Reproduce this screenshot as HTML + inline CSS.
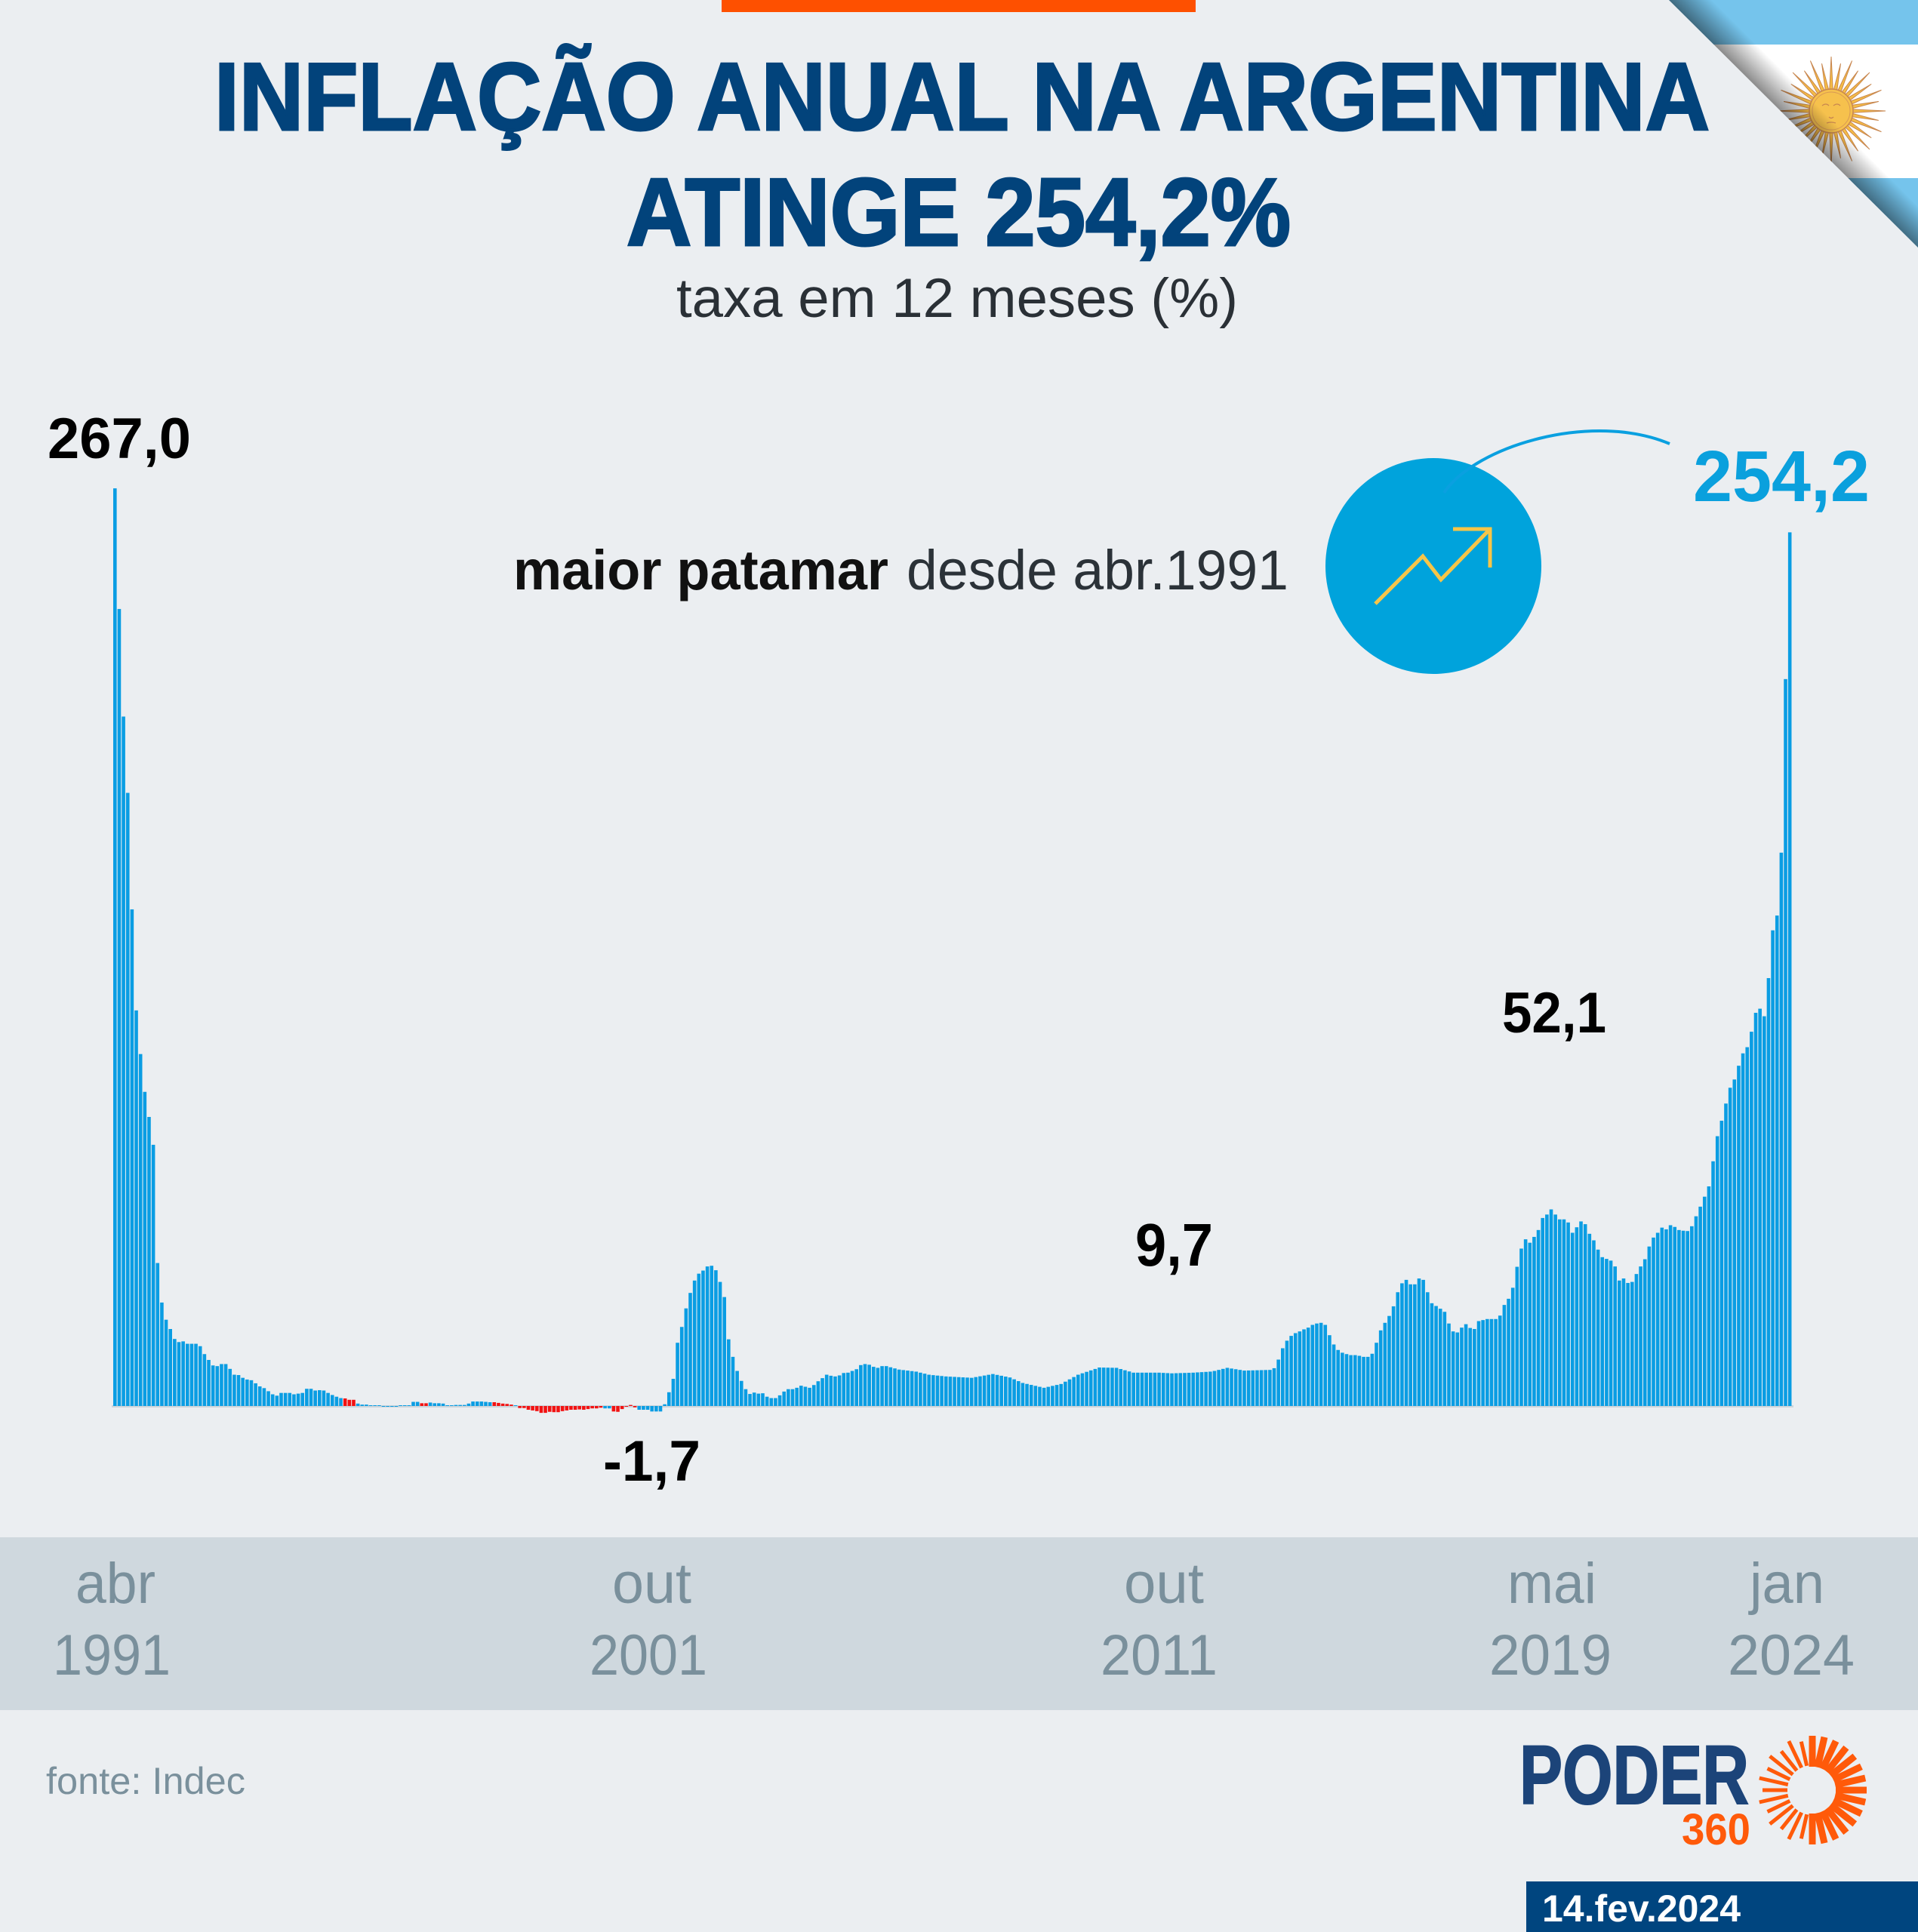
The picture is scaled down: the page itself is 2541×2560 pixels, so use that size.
<!DOCTYPE html>
<html>
<head>
<meta charset="utf-8">
<style>
html,body{margin:0;padding:0;background:#ebeef1;}
svg{display:block;}
</style>
</head>
<body>
<svg id="s" width="2541" height="2560" viewBox="0 0 2541 2560" xmlns="http://www.w3.org/2000/svg" font-family="'Liberation Sans', Arial, sans-serif">
<defs>
  <clipPath id="flagclip"><polygon points="2211,0 2541,0 2541,328"/></clipPath>
  <linearGradient id="sh" gradientUnits="userSpaceOnUse" x1="2376" y1="164" x2="2404" y2="136">
    <stop offset="0" stop-color="#000" stop-opacity="0.45"/>
    <stop offset="1" stop-color="#000" stop-opacity="0"/>
  </linearGradient>
</defs>
<rect width="2541" height="2560" fill="#ebeef1"/>
<rect x="956" y="0" width="628" height="16" fill="#fe5000"/>

<!-- flag -->
<g clip-path="url(#flagclip)">
  <rect x="2200" y="0" width="341" height="59" fill="#75c4ec"/>
  <rect x="2200" y="59" width="341" height="177" fill="#ffffff"/>
  <rect x="2200" y="236" width="341" height="100" fill="#75c4ec"/>
  <g id="flagsun"></g>
  <circle cx="2426" cy="147" r="29" fill="#f6c14d" stroke="#c8874f" stroke-width="1.5"/>
  <circle cx="2426" cy="147" r="25" fill="none" stroke="#d99a55" stroke-width="1"/>
  <path d="M2414,140 q5,-4 9,0 M2429,140 q5,-4 9,0 M2423,155 q3,3 6,0 M2420,163 q6,-2 12,0" fill="none" stroke="#c8874f" stroke-width="1.3"/>
  <rect x="2200" y="0" width="341" height="340" fill="url(#sh)"/>
</g>

<!-- titles -->
<text x="284" y="172" font-size="127" font-weight="bold" fill="#02437b" stroke="#02437b" stroke-width="3" textLength="1981" lengthAdjust="spacingAndGlyphs">INFLAÇÃO ANUAL NA ARGENTINA</text>
<text x="830" y="325" font-size="127" font-weight="bold" fill="#02437b" stroke="#02437b" stroke-width="3" textLength="880" lengthAdjust="spacingAndGlyphs">ATINGE 254,2%</text>
<text x="896" y="420" font-size="73" fill="#2a3036" textLength="744" lengthAdjust="spacingAndGlyphs">taxa em 12 meses (%)</text>

<!-- baseline -->
<rect x="148" y="1862" width="2228" height="3" fill="#cdd5db"/>
<g id="bars"></g>

<!-- annotations -->
<text x="63" y="607" font-size="76" font-weight="bold" fill="#000" textLength="190" lengthAdjust="spacingAndGlyphs">267,0</text>
<text x="2243" y="664" font-size="96" font-weight="bold" fill="#0aa0dd" textLength="234" lengthAdjust="spacingAndGlyphs">254,2</text>
<text x="680" y="781" font-size="74" font-weight="bold" fill="#111" textLength="497" lengthAdjust="spacingAndGlyphs">maior patamar</text>
<text x="1201" y="781" font-size="74" fill="#2b3238" textLength="506" lengthAdjust="spacingAndGlyphs">desde abr.1991</text>
<text x="1990" y="1368" font-size="76" font-weight="bold" fill="#000" textLength="138" lengthAdjust="spacingAndGlyphs">52,1</text>
<text x="1504" y="1677" font-size="80" font-weight="bold" fill="#000" textLength="103" lengthAdjust="spacingAndGlyphs">9,7</text>
<text x="799" y="1962" font-size="76" font-weight="bold" fill="#000" textLength="129" lengthAdjust="spacingAndGlyphs">-1,7</text>

<circle cx="1899" cy="750" r="143" fill="#00a3dc"/>
<path d="M1913,653 C1955,590 2110,545 2212,588" fill="none" stroke="#0aa0e0" stroke-width="4"/>
<polyline points="1822,800 1885,737 1909,768 1974,701" fill="none" stroke="#f7c548" stroke-width="5"/>
<polyline points="1925,701 1974,701 1974,752" fill="none" stroke="#f7c548" stroke-width="5"/>

<!-- axis band -->
<rect x="0" y="2037" width="2541" height="229" fill="#cfd8de"/>
<g font-size="76" fill="#7a909c">
  <text x="100" y="2124" textLength="106" lengthAdjust="spacingAndGlyphs">abr</text>
  <text x="70" y="2219" textLength="156" lengthAdjust="spacingAndGlyphs">1991</text>
  <text x="811" y="2124" textLength="105" lengthAdjust="spacingAndGlyphs">out</text>
  <text x="781" y="2219" textLength="156" lengthAdjust="spacingAndGlyphs">2001</text>
  <text x="1489" y="2124" textLength="106" lengthAdjust="spacingAndGlyphs">out</text>
  <text x="1458" y="2219" textLength="155" lengthAdjust="spacingAndGlyphs">2011</text>
  <text x="1997" y="2124" textLength="118" lengthAdjust="spacingAndGlyphs">mai</text>
  <text x="1973" y="2219" textLength="162" lengthAdjust="spacingAndGlyphs">2019</text>
  <text x="2318" y="2124" textLength="99" lengthAdjust="spacingAndGlyphs">jan</text>
  <text x="2289" y="2219" textLength="168" lengthAdjust="spacingAndGlyphs">2024</text>
</g>

<text x="61" y="2377" font-size="50" fill="#7a909c" textLength="264" lengthAdjust="spacingAndGlyphs">fonte: Indec</text>

<!-- logo -->
<text x="2013" y="2390" font-size="110" font-weight="bold" fill="#1c4479" stroke="#1c4479" stroke-width="2" textLength="304" lengthAdjust="spacingAndGlyphs">PODER</text>
<text x="2228" y="2444" font-size="58" font-weight="bold" fill="#ff5a0a" textLength="91" lengthAdjust="spacingAndGlyphs">360</text>
<g id="logosun"></g>

<!-- date -->
<rect x="2022" y="2493" width="519" height="67" fill="#00457f"/>
<text x="2043" y="2546" font-size="50" font-weight="bold" fill="#ffffff" textLength="263" lengthAdjust="spacingAndGlyphs">14.fev.2024</text>
</svg>

<script>
(function(){
var ns="http://www.w3.org/2000/svg";
var A=[267.0,231.9,200.6,178.4,144.5,115.1,102.4,91.4,84.1,76.0,
41.6,30.1,25.1,22.4,19.5,18.6,18.8,18.1,18.1,18.1,
17.4,15.1,13.4,11.8,11.6,12.2,12.2,10.8,9.1,9.0,
8.2,7.7,7.5,6.6,5.7,5.2,4.3,3.4,3.0,3.8,
3.8,3.8,3.4,3.6,3.8,5.0,5.0,4.5,4.6,4.5,
3.8,3.2,2.7,2.3,2.2,1.8,1.8,0.7,0.4,0.4,
0.2,0.1,0.0,-0.2,-0.2,-0.1,-0.1,0.1,0.2,0.2,
1.2,1.2,0.8,0.8,1.0,0.8,0.8,0.7,0.1,0.1,
0.3,0.3,0.3,0.7,1.3,1.3,1.3,1.2,1.1,1.1,
0.9,0.7,0.6,0.4,0.0,-0.6,-0.6,-1.1,-1.3,-1.5,
-2.0,-2.0,-1.7,-1.8,-1.8,-1.5,-1.3,-1.1,-1.1,-1.0,
-1.1,-0.9,-0.7,-0.7,-0.5,-0.7,-0.7,-1.6,-1.7,-0.9,
-0.2,0.3,-0.4,-1.1,-1.1,-1.1,-1.6,-1.6,-1.6,0.5,
4.0,7.9,18.4,23.0,28.4,32.9,36.5,38.5,39.4,40.6,
40.8,39.5,36.1,31.7,19.4,14.3,10.2,7.3,4.9,3.5,
3.9,3.6,3.7,2.7,2.3,2.3,3.1,4.2,4.9,4.9,
5.3,5.9,5.6,5.3,6.1,7.2,8.1,9.1,8.8,8.6,
8.9,9.6,9.7,10.2,10.7,11.9,12.2,12.0,11.4,11.1,
11.6];
var C=[[180,11.6],[181,11.6],[184,10.6],[188,10.0],[191,9.1],[195,8.6],[201,8.2],[206,9.3],[210,8.3],[213,6.7],[218,5.3],[222,6.4],[226,9.1],[231,11.2],[235,11.1],[239,9.7],[245,9.7],[248,9.5],[253,9.7],[257,10.0],[258,10.2],[261,11.1],[265,10.3],[271,10.5],[272,11.0]];
var B=[13.5,16.8,19.0,20.4,21.2,21.7,22.3,22.8,23.6,24.0,
24.2,23.6,20.6,17.9,16.3,15.5,15.1,14.8,14.8,14.6,
14.3,14.3,15.2,18.4,22.0,24.2,26.2,29.0,33.1,35.7,
36.7,35.4,35.4,37.1,36.7,33.1,29.9,29.1,28.3,27.4,
24.0,21.7,21.4,22.8,23.8,22.7,22.4,24.7,25.0,25.3,
25.3,25.3,26.3,29.4,31.2,34.4,40.5,45.8,48.5,47.5,
49.2,51.2,54.7,55.7,57.2,55.7,54.3,54.3,53.4,50.4,
52.0,53.7,52.9,50.1,48.2,45.5,43.3,42.8,42.3,40.6,
36.5,37.1,35.8,36.1,38.4,40.6,
42.7,46.4,49.0,50.4,51.9,51.4,52.6,52.1,51.2,51.0,
50.9,52.3,55.2,58.0,60.9,63.9,71.2,78.5,83.0,88.0,
92.6,95.0,99.0,102.6,104.4,108.9,114.4,115.6,113.4,124.5,
138.4,142.7,161.0,211.5,254.2];
var v=A.slice();
for(var i=181;i<=272;i++){
  for(var k=0;k<C.length-1;k++){
    if(i>=C[k][0]&&i<=C[k+1][0]){
      var t=(i-C[k][0])/(C[k+1][0]-C[k][0]);
      v.push(C[k][1]+(C[k+1][1]-C[k][1])*t);break;
    }
  }
}
v=v.concat(B);
var red={};
[54,55,56,72,73].forEach(function(x){red[x]=1;});
for(var r=89;r<=93;r++)red[r]=1;
for(r=95;r<=114;r++)red[r]=1;
for(r=117;r<=122;r++)red[r]=1;
var g=document.getElementById('bars');
var base=1863,sc=4.554;
for(i=0;i<v.length;i++){
  var val=v[i],h=Math.abs(val)*sc;if(h<1)h=1;
  var rc=document.createElementNS(ns,'rect');
  rc.setAttribute('x',(150+i*5.646).toFixed(2));
  rc.setAttribute('width','4.6');
  if(val>=0){rc.setAttribute('y',(base-h).toFixed(2));}
  else{rc.setAttribute('y',base);}
  rc.setAttribute('height',h.toFixed(2));
  rc.setAttribute('fill',red[i]?'#f21212':'#0a9de3');
  g.appendChild(rc);
}
// flag sun rays
var fs=document.getElementById('flagsun');
var cx=2426,cy=147;
for(k=0;k<32;k++){
  var a=k*Math.PI*2/32,ro=(k%2==0)?72:64,ri=27,hw=0.085;
  var p=[[cx+ri*Math.sin(a-hw),cy-ri*Math.cos(a-hw)],[cx+ro*Math.sin(a),cy-ro*Math.cos(a)],[cx+ri*Math.sin(a+hw),cy-ri*Math.cos(a+hw)]];
  var pg=document.createElementNS(ns,'polygon');
  pg.setAttribute('points',p.map(function(q){return q[0].toFixed(1)+','+q[1].toFixed(1);}).join(' '));
  pg.setAttribute('fill','#f5bd45');pg.setAttribute('stroke','#c8874f');pg.setAttribute('stroke-width','1');
  fs.appendChild(pg);
}
// logo sun
var ls=document.getElementById('logosun');
var lx=2401,ly=2372,n=28;
for(k=0;k<n;k++){
  var ang=k*360/n,rad=ang*Math.PI/180;
  var thick=(ang<=180);
  var r1=31,r2=72;
  if(!thick){r1=33;r2=(k%2==0)?72:66;}
  var ln=document.createElementNS(ns,'line');
  ln.setAttribute('x1',(lx+r1*Math.sin(rad)).toFixed(1));
  ln.setAttribute('y1',(ly-r1*Math.cos(rad)).toFixed(1));
  ln.setAttribute('x2',(lx+r2*Math.sin(rad)).toFixed(1));
  ln.setAttribute('y2',(ly-r2*Math.cos(rad)).toFixed(1));
  ln.setAttribute('stroke','#ff5a0a');
  ln.setAttribute('stroke-width',thick?'9':'5');
  ls.appendChild(ln);
}
})();
</script>
</body>
</html>
